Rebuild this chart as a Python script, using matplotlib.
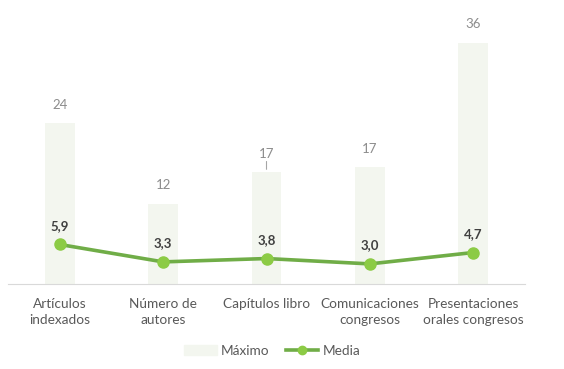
import matplotlib.pyplot as plt
from matplotlib.lines import Line2D
from matplotlib.patches import Patch

categories = ["Artículos\nindexados", "Número de\nautores", "Capítulos libro",
              "Comunicaciones\ncongresos", "Presentaciones\norales congresos"]
maximo = [24, 12, 16.7, 17.4, 36]
maximo_labels = ["24", "12", "17", "17", "36"]
media = [5.9, 3.3, 3.8, 3.0, 4.7]
media_labels = ["5,9", "3,3", "3,8", "3,0", "4,7"]

plt.rcParams['font.family'] = ['Lato', 'DejaVu Sans']

bar_color = '#F3F6EF'
line_color = '#70AD47'
marker_color = '#8CCB45'

fig = plt.figure(figsize=(5.64, 3.69), dpi=100)
ax = fig.add_axes([8 / 564, 1 - 284 / 369, 517 / 564, 268 / 369])

x = range(len(categories))
ax.bar(x, maximo, width=0.29, color=bar_color, zorder=1)
ax.plot(x, media, color=line_color, lw=2.6, marker='o', ms=8,
        mfc=marker_color, mec=marker_color, zorder=3)

# data labels for the max bars
for i, (v, lab) in enumerate(zip(maximo, maximo_labels)):
    ax.annotate(lab, (i, v), xytext=(0, 9), textcoords='offset points',
                ha='center', va='bottom', fontsize=9.5, color='#8C8C8C')
# leader line on the third label
ax.annotate('', (2, maximo[2]), xytext=(2, maximo[2] + 2.0),
            arrowprops=dict(arrowstyle='-', color='#A6A6A6', lw=0.8))

# data labels for the mean line
for i, (v, lab) in enumerate(zip(media, media_labels)):
    ax.annotate(lab, (i, v), xytext=(0, 9), textcoords='offset points',
                ha='center', va='bottom', fontsize=9.5, color='#404040',
                fontweight='bold')

ax.set_xlim(-0.5, len(categories) - 0.5)
ax.set_ylim(0, 40)
ax.set_yticks([])
ax.set_xticks(list(x))
ax.set_xticklabels(categories, fontsize=9.8, color='#595959', linespacing=1.45)
ax.tick_params(axis='x', length=0, pad=10)
for s in ['top', 'right', 'left']:
    ax.spines[s].set_visible(False)
ax.spines['bottom'].set_color('#D9D9D9')

handles = [Patch(color=bar_color, label='Máximo'),
           Line2D([0], [0], color=line_color, lw=2.6, marker='o', ms=6,
                  mfc=marker_color, mec=marker_color, label='Media')]
fig.legend(handles=handles, loc='center', bbox_to_anchor=(272 / 564, 1 - 351 / 369),
           ncol=2, frameon=False, fontsize=9.8, labelcolor='#595959',
           handlelength=2.4, handletextpad=0.3, columnspacing=1.2)

plt.savefig('out.png', dpi=100)
